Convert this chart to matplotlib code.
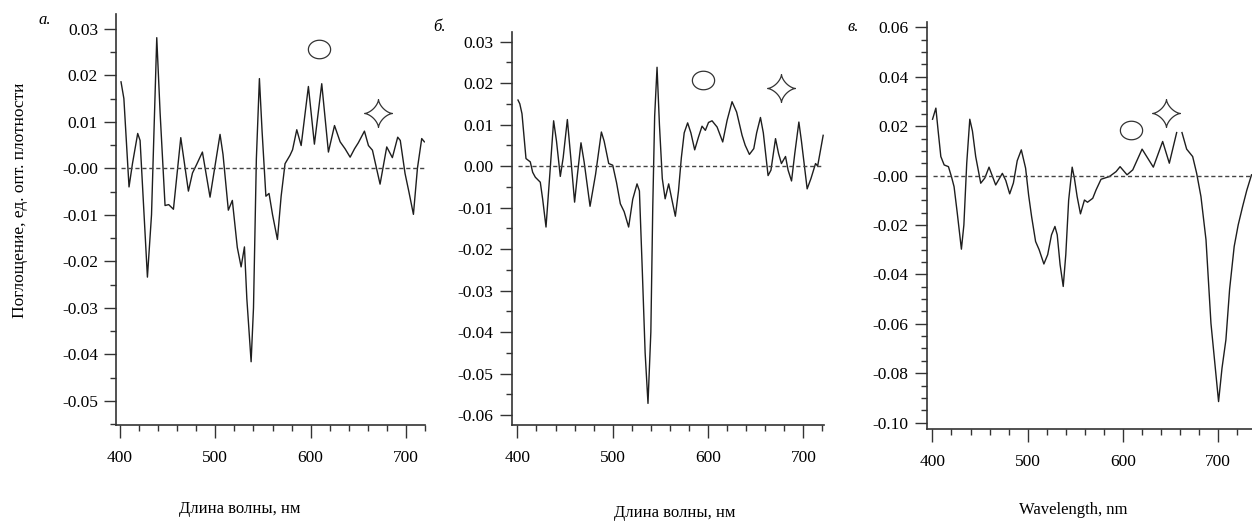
import numpy as np
import matplotlib
matplotlib.use("Agg")
import matplotlib.pyplot as plt
from matplotlib.path import Path
from matplotlib.ticker import MultipleLocator, FormatStrFormatter

plt.rcParams["font.family"] = "Liberation Serif"
plt.rcParams["font.size"] = 12.5
plt.rcParams["axes.unicode_minus"] = False

######## panel a ########
wl_a = [401, 404, 409.4, 413, 418.5, 421, 428.7, 433, 438.5, 442, 447.2, 451, 456,
        463.7, 471.7, 476, 480.5, 486.4, 494.4, 504.9, 508, 513.6, 517.8, 523, 527,
        530.5, 533, 537.5, 540, 543, 546.2, 549, 553, 556.3, 560, 565.1, 569, 573.1,
        578.3, 581, 585.4, 590, 597.6, 603.9, 611.6, 618.6, 625, 630.9, 636.1, 641.4,
        646, 650, 656.4, 660.6, 664.8, 672.8, 679.8, 685.7, 691.3, 694, 699, 703,
        707.8, 712, 716.5, 719.3]
abs_a = [0.0186, 0.0150, -0.0040, 0.0010, 0.0075, 0.0060, -0.0234, -0.0100, 0.0281,
         0.0120, -0.0080, -0.0078, -0.0088, 0.0066, -0.0049, -0.0010, 0.0009, 0.0035,
         -0.0062, 0.0073, 0.0030, -0.0090, -0.0069, -0.0170, -0.0212, -0.0169, -0.0280,
         -0.0416, -0.0300, 0.0020, 0.0193, 0.0080, -0.0060, -0.0054, -0.0100, -0.0153,
         -0.0060, 0.0010, 0.0028, 0.0040, 0.0083, 0.0049, 0.0176, 0.0052, 0.0182,
         0.0035, 0.0092, 0.0057, 0.0042, 0.0024, 0.0042, 0.0055, 0.0080, 0.0049,
         0.0039, -0.0034, 0.0046, 0.0023, 0.0067, 0.0060, -0.0011, -0.0050, -0.0099,
         0.0000, 0.0064, 0.0057]

######## panel b ########
wl_b = [400.6, 402.5, 404.8, 409, 413.5, 416, 418.8, 424, 426.5, 430, 434, 438, 441,
        445, 448, 452.4, 456, 460, 463, 466.7, 470, 476.2, 482, 488.1, 491, 495.8,
        500, 504, 508, 512, 516.7, 521, 525.5, 528, 531, 534, 537, 540, 542, 544,
        546.5, 549, 552, 555, 558.7, 562, 565.7, 569, 572, 575, 578.6, 582, 586, 590,
        593.7, 597.2, 600.5, 604.2, 609.5, 615.4, 620, 625.2, 630, 635.7, 639, 643.4,
        648, 651, 655, 658, 663, 666, 670.8, 674, 677, 681.3, 684, 687.6, 691, 695.3,
        698, 704, 708, 712.8, 715, 720.8]
abs_b = [0.0159, 0.0150, 0.0126, 0.0018, 0.0010, -0.0015, -0.0027, -0.0039, -0.0080,
         -0.0147, -0.0020, 0.0109, 0.0060, -0.0025, 0.0020, 0.0112, 0.0020, -0.0087,
         -0.0020, 0.0056, 0.0010, -0.0097, -0.0020, 0.0082, 0.0060, 0.0006, 0.0002,
         -0.0040, -0.0091, -0.0110, -0.0147, -0.0080, -0.0043, -0.0060, -0.0250,
         -0.0450, -0.0572, -0.0400, -0.0100, 0.0120, 0.0238, 0.0100, -0.0030, -0.0079,
         -0.0043, -0.0080, -0.0121, -0.0060, 0.0020, 0.0080, 0.0104, 0.0080, 0.0039,
         0.0070, 0.0096, 0.0086, 0.0105, 0.0109, 0.0094, 0.0058, 0.0110, 0.0155,
         0.0130, 0.0074, 0.0050, 0.0028, 0.0042, 0.0080, 0.0117, 0.0080, -0.0023,
         -0.0010, 0.0066, 0.0030, 0.0006, 0.0023, -0.0010, -0.0036, 0.0030, 0.0106,
         0.0060, -0.0055, -0.0030, 0.0006, 0.0000, 0.0074]

######## panel c ########
wl_c = [400.1, 403.6, 406, 408.8, 412.3, 416.8, 420, 422.7, 426, 430.4, 433, 436, 439.2,
        442, 445.4, 450.7, 455, 459.4, 466.4, 473.4, 477, 481.1, 485, 489, 493.3, 497.8,
        501, 504.1, 508.3, 512, 517, 521, 525, 528.6, 531, 534, 537.3, 540, 543, 546.7,
        549, 551.9, 555.4, 559.6, 562.8, 568.3, 571.8, 577, 585.8, 592.8, 597, 604.3,
        610.3, 620.1, 631.9, 641.7, 648.7, 656.4, 659, 662, 666.9, 673.2, 677.4, 681.9,
        687.2, 692.4, 700.4, 704, 708.1, 712, 716.8, 721, 725.6, 730, 735]
abs_c = [0.0228, 0.0273, 0.0180, 0.0077, 0.0043, 0.0036, -0.0005, -0.0045, -0.0150,
         -0.0298, -0.0200, 0.0050, 0.0228, 0.0180, 0.0077, -0.0031, -0.0010, 0.0034,
         -0.0038, 0.0009, -0.0020, -0.0074, -0.0030, 0.0060, 0.0104, 0.0030, -0.0080,
         -0.0166, -0.0267, -0.0300, -0.0358, -0.0320, -0.0240, -0.0206, -0.0240,
         -0.0360, -0.0449, -0.0320, -0.0100, 0.0034, -0.0010, -0.0085, -0.0155, -0.0099,
         -0.0108, -0.0092, -0.0058, -0.0015, -0.0004, 0.0016, 0.0036, 0.0003, 0.0023,
         0.0107, 0.0034, 0.0138, 0.0050, 0.0174, np.nan, 0.0174, 0.0107, 0.0077, 0.0009,
         -0.0085, -0.0260, -0.0598, -0.0915, -0.0780, -0.0665, -0.0460, -0.0287,
         -0.0200, -0.0126, -0.0060, 0.0003]

# circle / star labels (wavelength, absorbance)
circle_pos = [(608.8, 0.0256), (594.8, 0.0207), (608.8, 0.0185)]
star_pos = [(670.7, 0.0120), (676.6, 0.0188), (645.4, 0.0254)]

t = np.linspace(0, 2*np.pi, 80)
ellipse_marker = Path(np.column_stack([1.2*np.cos(t), np.sin(t)]), closed=True)
star_marker = Path(np.column_stack([np.cos(t)**3, np.sin(t)**3]), closed=True)

fig = plt.figure(figsize=(12.52, 5.21), dpi=100)

panels = [
    dict(wl=wl_a, ab=abs_a, rect=[0.0927, 0.1843, 0.2468, 0.7889],
         xlim=(395.8, 720), ylim=(-0.0552, 0.0332), ymaj=0.01,
         xlabel="Длина волны, нм", lab_xy=(0.40, -0.205), tag="а.", tag_xy=(45, 20)),
    dict(wl=wl_b, ab=abs_b, rect=[0.4087, 0.1843, 0.2497, 0.7543],
         xlim=(394, 722), ylim=(-0.0624, 0.0323), ymaj=0.01,
         xlabel="Длина волны, нм", lab_xy=(0.52, -0.225), tag="б.", tag_xy=(440, 27)),
    dict(wl=wl_c, ab=abs_c, rect=[0.7402, 0.1766, 0.2598, 0.7818],
         xlim=(394, 735.5), ylim=(-0.1026, 0.0623), ymaj=0.02,
         xlabel="Wavelength, nm", lab_xy=(0.45, -0.20), tag="в.", tag_xy=(853, 27)),
]

for i, p in enumerate(panels):
    ax = fig.add_axes(p["rect"])
    wl = np.array(p["wl"])
    ax.plot(wl, p["ab"], color="#1e1e1e", lw=1.0)
    ax.hlines(0, wl.min(), wl.max(), colors="#444444", linestyles=(0, (3, 2)), lw=1.0)

    ax.plot(*circle_pos[i], marker=ellipse_marker, ms=16, mfc="none", mec="#333333", mew=0.9)
    ax.plot(*star_pos[i], marker=star_marker, ms=20, mfc="none", mec="#333333", mew=0.9)

    ax.set_xlim(p["xlim"])
    ax.set_ylim(p["ylim"])
    ax.xaxis.set_major_locator(MultipleLocator(100))
    ax.xaxis.set_minor_locator(MultipleLocator(20))
    ax.yaxis.set_major_locator(MultipleLocator(p["ymaj"]))
    ax.yaxis.set_minor_locator(MultipleLocator(0.005))
    ax.yaxis.set_major_formatter(FormatStrFormatter("%.2f"))

    for s in ["top", "right"]:
        ax.spines[s].set_visible(False)
    for s in ["left", "bottom"]:
        ax.spines[s].set_color("#333333")
        ax.spines[s].set_linewidth(1.2)

    ax.tick_params(axis="both", which="major", length=9, width=1.0, color="#333333",
                   labelsize=12.5)
    ax.tick_params(axis="both", which="minor", length=4.5, width=1.0, color="#333333")
    ax.tick_params(axis="x", which="major", pad=9)
    ax.tick_params(axis="y", which="major", pad=4)

    ax.set_xlabel(p["xlabel"], fontsize=12)
    ax.xaxis.label.set_va("center")
    ax.xaxis.set_label_coords(*p["lab_xy"])

    fig.text(p["tag_xy"][0]/1252, 1 - p["tag_xy"][1]/521, p["tag"], style="italic",
             fontsize=12, ha="center", va="center")

fig.text(20/1252, 1 - 200/521, "Поглощение, ед. опт. плотности", rotation=90,
         fontsize=12.5, ha="center", va="center")

fig.savefig("out.png", dpi=100)
